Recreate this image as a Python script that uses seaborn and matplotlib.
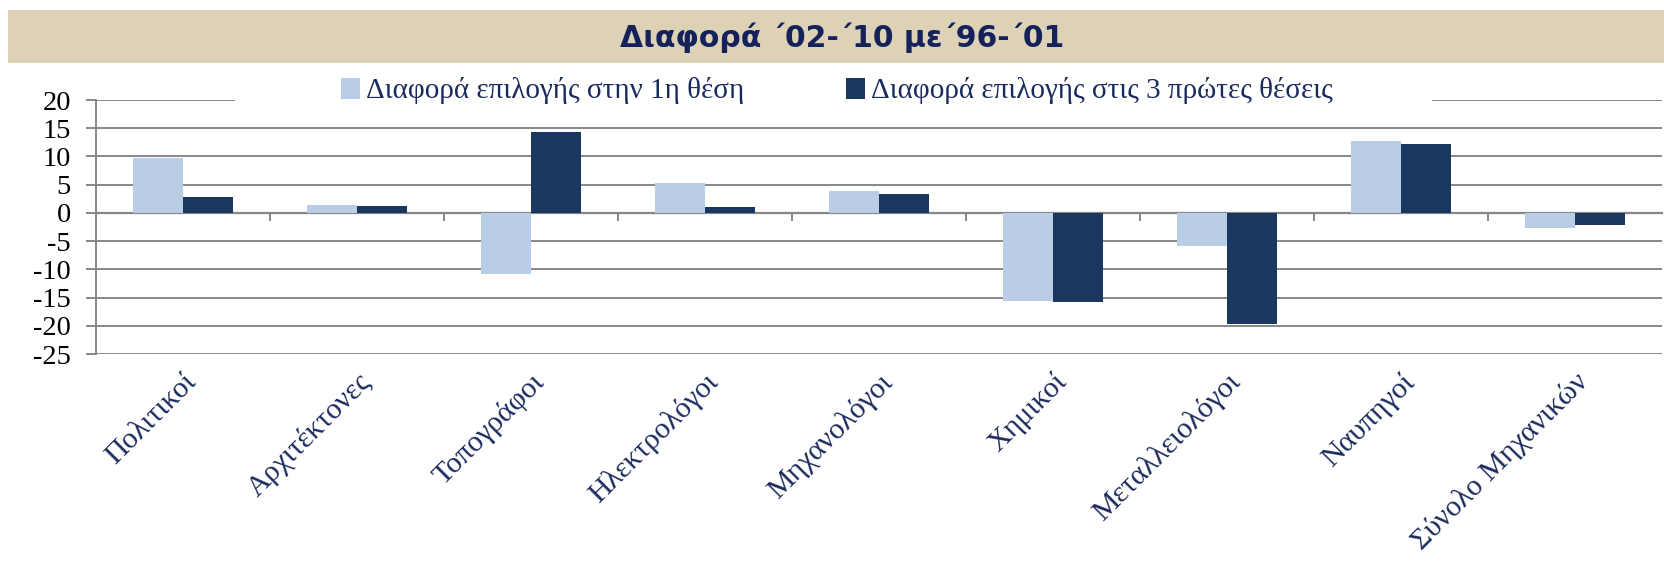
import pandas as pd
import matplotlib
matplotlib.use('Agg')
import matplotlib.pyplot as plt
import seaborn as sns
from matplotlib.patches import Rectangle

# chart data
categories = ['Πολιτικοί', 'Αρχιτέκτονες', 'Τοπογράφοι', 'Ηλεκτρολόγοι', 'Μηχανολόγοι',
              'Χημικοί', 'Μεταλλειολόγοι', 'Ναυπηγοί', 'Σύνολο Μηχανικών']
first_place = [9.8, 1.4, -10.8, 5.3, 3.8, -15.6, -5.8, 12.8, -2.7]
top_three = [2.8, 1.3, 14.4, 1.1, 3.4, -15.7, -19.6, 12.2, -2.2]
series_names = ['Διαφορά επιλογής στην 1η θέση', 'Διαφορά επιλογής στις 3 πρώτες θέσεις']
title = 'Διαφορά ΄02-΄10 με΄96-΄01'
yticks = [20, 15, 10, 5, 0, -5, -10, -15, -20, -25]

light = '#B9CDE5'
dark = '#19375F'
navy = '#1B2A5C'
title_col = '#14215A'
grid = '#878787'

df = pd.DataFrame({
    'cat': categories * 2,
    'val': first_place + top_three,
    'series': [series_names[0]] * len(categories) + [series_names[1]] * len(categories),
})

sns.set_style('white')
plt.rcParams['font.family'] = ['Liberation Serif', 'DejaVu Serif']

fig = plt.figure(figsize=(16.64, 5.65), dpi=100)
ax = fig.add_axes([96 / 1664, 1 - 354 / 565, 1566 / 1664, 254 / 565])

sns.barplot(data=df, x='cat', y='val', hue='series', order=categories,
            hue_order=series_names, palette=[light, dark], width=0.575, gap=0,
            saturation=1, linewidth=0, ax=ax, legend=False, zorder=3)

ax.set_xlim(-0.5, len(categories) - 0.5)
ax.set_ylim(-25, 20)
ax.set_yticks(yticks)
ax.set_yticklabels([str(t) for t in yticks])
ax.yaxis.grid(True, color=grid, linewidth=1.4, zorder=0)
ax.set_axisbelow(True)
ax.set_xlabel('')
ax.set_ylabel('')

for s in ['top', 'right']:
    ax.spines[s].set_visible(False)
ax.spines['left'].set_color(grid)
ax.spines['left'].set_linewidth(1.4)
ax.spines['bottom'].set_position(('data', 0))
ax.spines['bottom'].set_color(grid)
ax.spines['bottom'].set_linewidth(1.6)

ax.tick_params(axis='y', which='major', left=True, length=7, width=1.4, color=grid,
               labelsize=20.5, pad=11, labelcolor='black')
ax.set_xticks([i + 0.5 for i in range(len(categories) - 1)], minor=True)
ax.tick_params(axis='x', which='minor', bottom=True, length=6, width=1.4, color=grid,
               direction='out')
ax.tick_params(axis='x', which='major', length=0, pad=112)
ax.set_xticks(range(len(categories)))
ax.set_xticklabels(categories, rotation=45, ha='right', rotation_mode='anchor',
                   fontsize=21.5, color=navy)

# title band
fig.patches.append(Rectangle((8 / 1664, 1 - 63 / 565), 1, 53 / 565,
                             transform=fig.transFigure, facecolor='#DDD2B6',
                             edgecolor='none', zorder=0))
fig.text(0.506, 1 - 38 / 565, title, ha='center', va='center', fontsize=21.5,
         fontweight='bold', color=title_col, family=['DejaVu Sans'])

# white strip behind the legend, hiding the top gridline there
fig.patches.append(Rectangle((235 / 1664, 1 - 112 / 565), 1197 / 1664, 40 / 565,
                             transform=fig.transFigure, facecolor='white',
                             edgecolor='none', zorder=4))

handles = [Rectangle((0, 0), 1, 1, facecolor=c, edgecolor='none') for c in [light, dark]]
leg = fig.legend(handles, series_names, loc='center', bbox_to_anchor=(0.503, 1 - 91 / 565),
                 ncol=2, fontsize=21, frameon=False, handlelength=0.65, handleheight=0.75,
                 handletextpad=0.2, columnspacing=3.5, borderpad=0.3)
for t in leg.get_texts():
    t.set_color(navy)

plt.savefig('out.png', dpi=100)
